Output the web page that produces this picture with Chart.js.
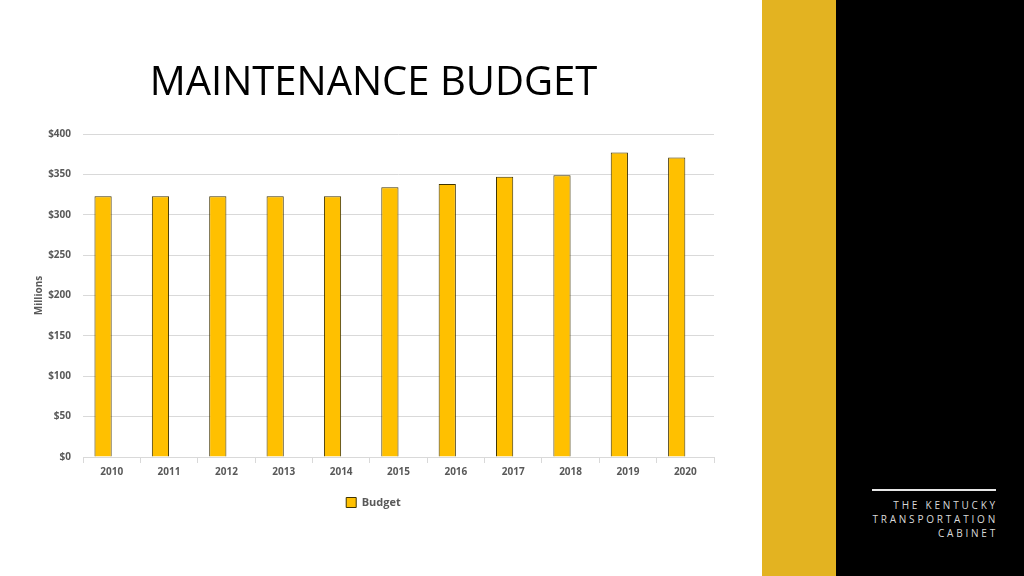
<!DOCTYPE html>
<html>
<head>
<meta charset="utf-8">
<script src="https://cdn.jsdelivr.net/npm/chart.js@4"></script>
<style>
  html, body { margin: 0; padding: 0; background: #fff; }
  body { width: 1024px; height: 576px; position: relative; overflow: hidden; font-family: "Open Sans", sans-serif; }
  #wrap { position: absolute; left: 0; top: 0; width: 762px; height: 576px; }
  #gold { position: absolute; left: 762px; top: 0; width: 74px; height: 576px; background: #E3B321; }
  #black { position: absolute; left: 836px; top: 0; width: 188px; height: 576px; background: #000; }
  #rule { position: absolute; left: 36px; top: 489px; width: 124px; height: 2px; background: #e6e6e6; }
  #brand { position: absolute; right: 26px; top: 498px; text-align: right; color: #d9d9d9;
           font-family: "Open Sans", sans-serif; font-size: 10px; letter-spacing: 2.8px; line-height: 14px; }
</style>
</head>
<body>
<div id="wrap"><canvas id="budget-bar-chart" width="762" height="576"></canvas></div>
<div id="gold"></div>
<div id="black">
  <div id="rule"></div>
  <div id="brand">THE KENTUCKY<br>TRANSPORTATION<br>CABINET</div>
</div>
<script>
// chart data
const years = ["2010", "2011", "2012", "2013", "2014", "2015", "2016", "2017", "2018", "2019", "2020"];
const budget = [323, 323, 323, 323, 323, 334, 338, 347, 349, 377, 371];
// the source chart keeps a second, empty series slot beside each bar
const emptySeries = [];
const yTicks = [0, 50, 100, 150, 200, 250, 300, 350, 400];

const barCtx = document.getElementById("budget-bar-chart").getContext("2d");
const labelColor = "#595959";
const gridColor = "#d9d9d9";

new Chart(barCtx, {
  type: "bar",
  data: {
    labels: years,
    datasets: [
      {
        label: "Budget",
        data: budget,
        backgroundColor: "#FFC000",
        borderColor: "#3f3300",
        borderWidth: 1,
        barPercentage: 1,
        categoryPercentage: 0.6,
      },
      {
        label: "",
        data: emptySeries,
        barPercentage: 1,
        categoryPercentage: 0.6,
      },
    ],
  },
  options: {
    responsive: false,
    animation: false,
    layout: { padding: { left: 33, right: 48, top: 0, bottom: 58 } },
    plugins: {
      title: {
        display: true,
        text: "MAINTENANCE BUDGET",
        color: "#000",
        font: { family: "Open Sans", size: 40, weight: "normal" },
        padding: { top: 60, bottom: 26 },
        align: "center",
      },
      legend: {
        position: "bottom",
        labels: {
          color: labelColor,
          font: { family: "Open Sans", size: 11, weight: "bold" },
          boxWidth: 10,
          boxHeight: 10,
          padding: 10,
          filter: item => item.text !== "",
        },
      },
      tooltip: { enabled: false },
    },
    scales: {
      x: {
        afterFit: s => { s.height += 6; },
        grid: { drawOnChartArea: false, color: gridColor, tickLength: 6 },
        border: { color: gridColor },
        ticks: { color: labelColor, font: { family: "Open Sans", size: 10, weight: "bold" }, padding: 3 },
      },
      y: {
        min: 0,
        max: 400,
        afterBuildTicks: s => { s.ticks = yTicks.map(v => ({ value: v })); },
        afterFit: s => { s.width = 50; },
        grid: { color: gridColor, drawTicks: false },
        border: { display: false },
        ticks: {
          color: labelColor,
          font: { family: "Open Sans", size: 10, weight: "bold" },
          padding: 12,
          callback: v => "$" + v,
        },
        title: {
          display: true,
          text: "Millions",
          color: labelColor,
          font: { family: "Open Sans", size: 10, weight: "bold" },
          padding: 0,
        },
      },
    },
  },
});
</script>
</body>
</html>
